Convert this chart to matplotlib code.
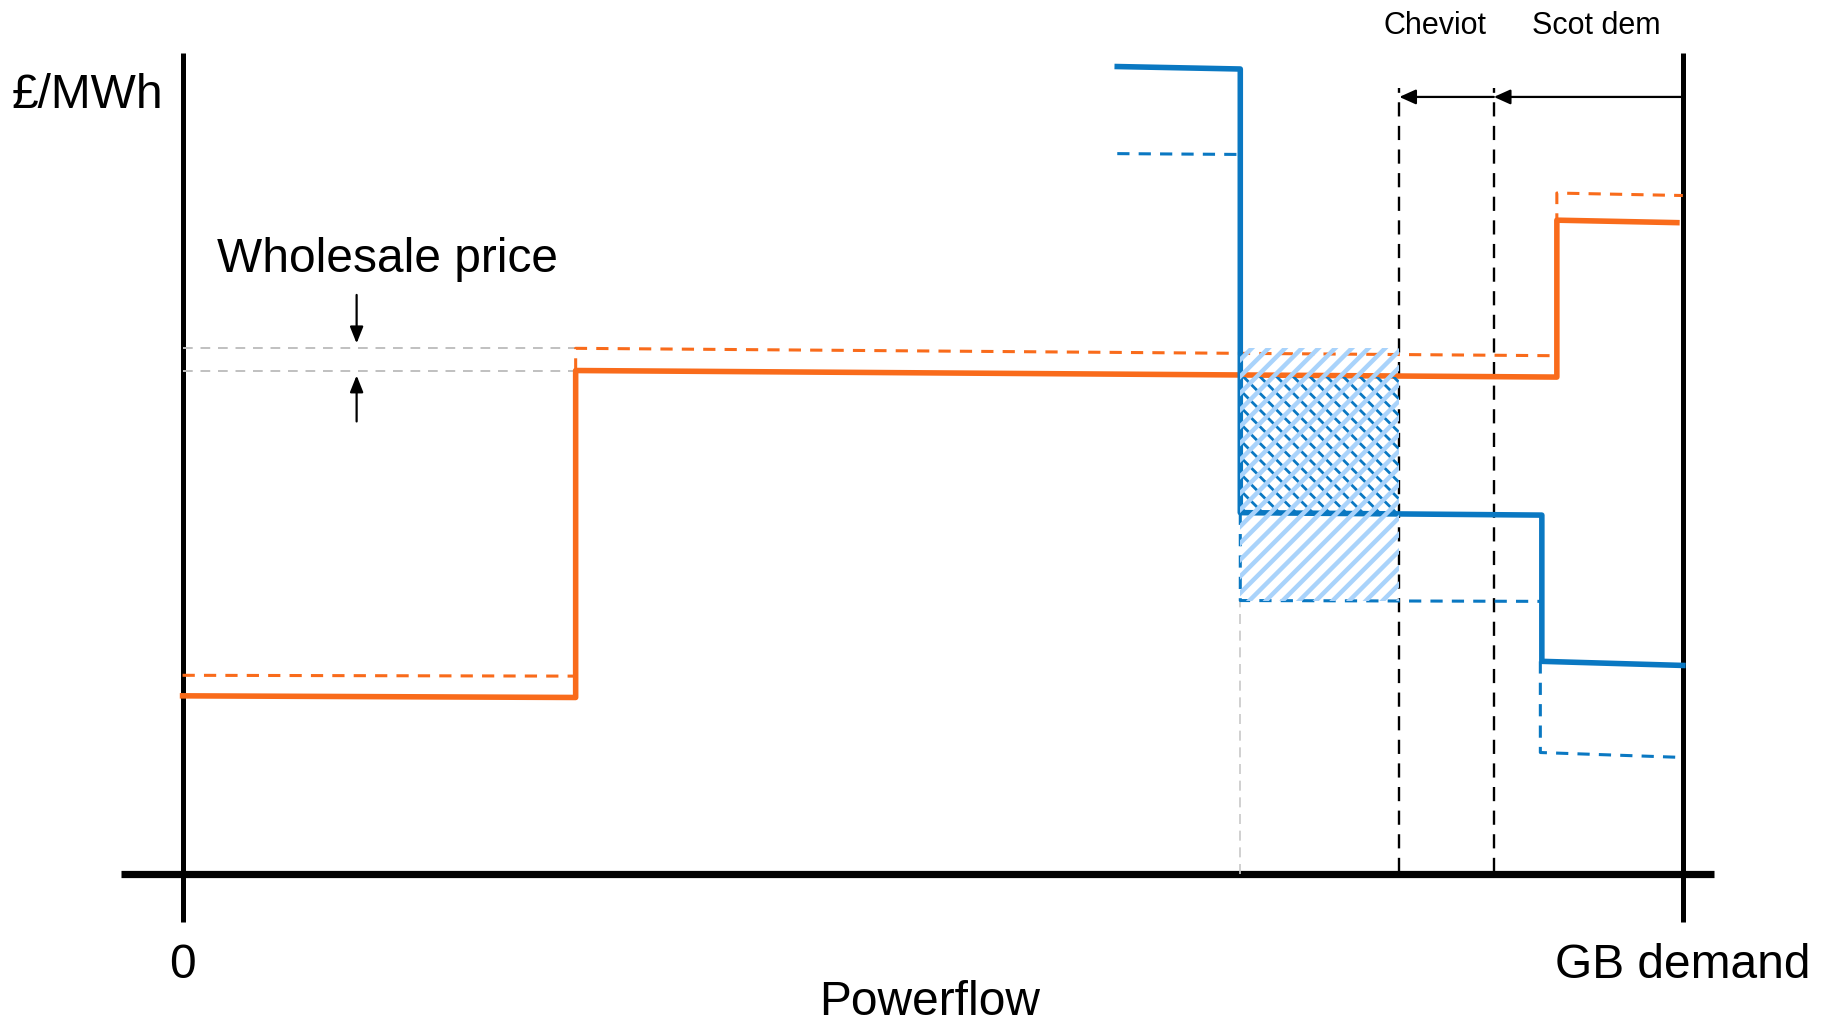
#!/usr/bin/env python3

from matplotlib import pyplot as plt

# powerflow as % of GB demand, price in arbitrary £/MWh units
x_step = 26.2        # first orange step
x_blue0 = 62.3       # start of blue curve
x_cross = 70.5       # blue drops through orange
x_blue_step = 90.6
x_orange_step = 91.6
x_cheviot = 81.1
x_scot = 87.4
x_demand = 100.0

# Scottish supply curve (orange), solid = before, dashed = after
orange_x = [0, x_step, x_step, x_orange_step, x_orange_step, 99.6]
orange_y = [21.7, 21.5, 61.3, 60.5, 79.6, 79.3]
orange_dash1_x = [0, x_step]
orange_dash1_y = [24.2, 24.1]
orange_dash2_x = [x_step, x_step, x_orange_step, x_orange_step, x_demand]
orange_dash2_y = [61.3, 64.0, 63.1, 82.9, 82.6]

# English curve (blue)
blue_x = [x_blue0, x_cross, x_cross, x_blue_step, x_blue_step, x_demand]
blue_y = [98.3, 98.0, 44.0, 43.7, 25.9, 25.4]
blue_dash1_x = [x_blue0, x_cross]
blue_dash1_y = [87.7, 87.6]
blue_dash2_x = [x_cross, x_cross, x_blue_step]
blue_dash2_y = [44.0, 33.3, 33.2]
blue_dash3_x = [90.5, 90.5, x_demand]
blue_dash3_y = [25.9, 14.8, 14.2]

# wholesale price markers
wp_high = 64.0
wp_low = 61.3

ORANGE = '#f96b1b'
BLUE = '#0a78c2'
LIGHT = '#a9d3fb'
FONT = ['Liberation Sans', 'DejaVu Sans']


def draw():
    fig = plt.figure(figsize=(18.35, 10.21), dpi=100)
    ax = fig.add_axes([0, 0, 1, 1])
    ax.set_xlim(-12.17, 110.14)
    ax.set_ylim(-17.88, 106.4)
    ax.axis('off')

    # axes frame
    ax.plot([0, 0], [-5.8, 100], color='black', lw=3.6, solid_capstyle='butt')
    ax.plot([x_demand, x_demand], [-5.8, 100], color='black', lw=3.6, solid_capstyle='butt')
    ax.plot([-4.1, 102.1], [0, 0], color='black', lw=5.2, solid_capstyle='butt')

    # Cheviot / Scot dem boundaries
    for xv in (x_cheviot, x_scot):
        ax.plot([xv, xv], [0.3, 95.7], color='black', lw=1.7, dashes=(6, 4))
    arrow = dict(arrowstyle='-|>,head_length=1.0,head_width=0.45', color='black', lw=1.6,
                 shrinkA=0, shrinkB=0)
    ax.annotate('', xy=(x_scot, 94.6), xytext=(x_demand, 94.6), arrowprops=arrow)
    ax.annotate('', xy=(x_cheviot, 94.6), xytext=(x_scot, 94.6), arrowprops=arrow)

    # grey guides
    ax.plot([0, x_step], [wp_high, wp_high], color='#c0c0c0', lw=1.4, dashes=(5, 4))
    ax.plot([0, x_step], [wp_low, wp_low], color='#c0c0c0', lw=1.4, dashes=(5, 4))
    ax.plot([x_cross, x_cross], [0, 33.3], color='#c8c8c8', lw=1.2, dashes=(6, 4))

    # curves
    ax.plot(orange_x, orange_y, color=ORANGE, lw=4.0)
    ax.plot(orange_dash1_x, orange_dash1_y, color=ORANGE, lw=2.2, dashes=(4, 3))
    ax.plot(orange_dash2_x, orange_dash2_y, color=ORANGE, lw=2.2, dashes=(4, 3))
    ax.plot(blue_x, blue_y, color=BLUE, lw=4.0)
    ax.plot(blue_dash1_x, blue_dash1_y, color=BLUE, lw=2.2, dashes=(4, 3))
    ax.plot(blue_dash2_x, blue_dash2_y, color=BLUE, lw=2.2, dashes=(4, 3))
    ax.plot(blue_dash3_x, blue_dash3_y, color=BLUE, lw=2.2, dashes=(4, 3))

    # hatched areas
    plt.rcParams['hatch.linewidth'] = 2.0
    ax.fill_between([x_cross, x_cheviot], 44.0, 60.5, facecolor='none',
                    edgecolor=BLUE, hatch='\\\\', linewidth=0, zorder=4)
    plt.rcParams['hatch.linewidth'] = 3.2
    ax.fill_between([x_cross, x_cheviot], 33.3, wp_high, facecolor='none',
                    edgecolor=LIGHT, hatch='//', linewidth=0, zorder=5)

    # wholesale price arrows
    warrow = dict(arrowstyle='-|>,head_length=1.0,head_width=0.4', color='black', lw=1.6,
                  shrinkA=0, shrinkB=0)
    ax.annotate('', xy=(11.6, wp_high + 0.6), xytext=(11.6, 70.5), arrowprops=warrow)
    ax.annotate('', xy=(11.6, wp_low - 0.6), xytext=(11.6, 55.1), arrowprops=warrow)

    # labels
    big = dict(fontsize=34.5, family=FONT, ha='center', va='baseline')
    ax.text(-6.32, 93.3, '£/MWh', **big)
    ax.text(13.65, 73.3, 'Wholesale price', **big)
    ax.text(0, -12.6, '0', **big)
    ax.text(x_demand, -12.6, 'GB demand', **big)
    ax.text(49.8, -17.1, 'Powerflow', **big)
    small = dict(fontsize=22, family=FONT, ha='center', va='baseline')
    ax.text(83.5, 102.3, 'Cheviot', **small)
    ax.text(94.2, 102.3, 'Scot dem', **small)
    return fig


if __name__ == '__main__':
    fig = draw()
    fig.savefig('out.png', dpi=100)
